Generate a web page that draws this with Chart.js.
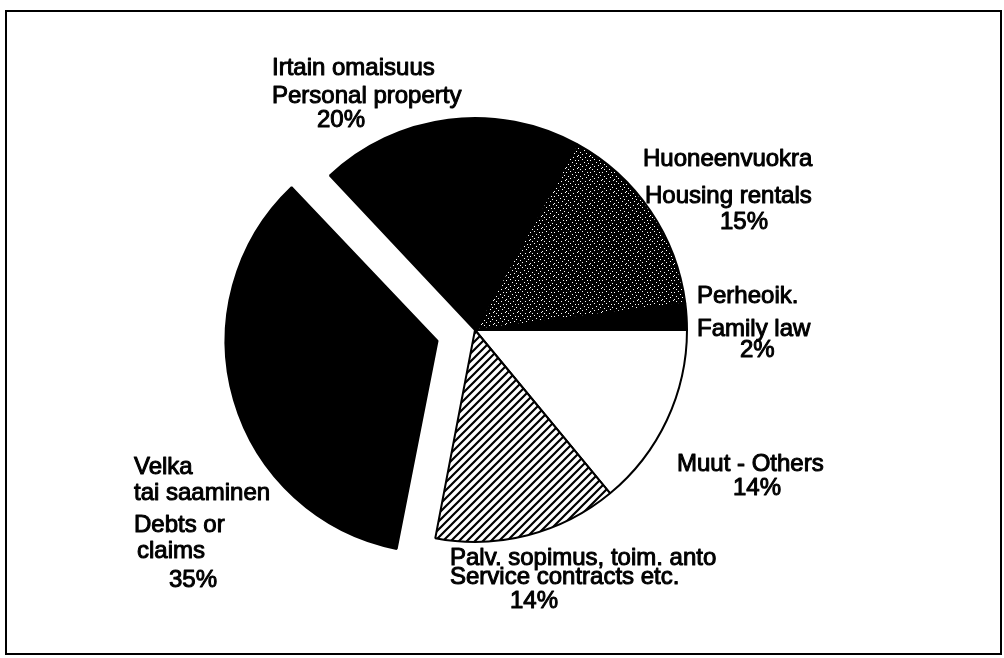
<!DOCTYPE html>
<html>
<head>
<meta charset="utf-8">
<script src="https://cdn.jsdelivr.net/npm/chart.js@4"></script>
<style>
html, body { margin: 0; padding: 0; background: #fff; }
#wrap { width: 1004px; height: 658px; position: relative; }
</style>
</head>
<body>
<div id="wrap"><canvas id="pie"></canvas></div>
<script>
// slices in clockwise order, starting at 3 o'clock
const namesFi = ['Muut', 'Palv. sopimus, toim. anto', 'Velka\ntai saaminen', 'Irtain omaisuus', 'Huoneenvuokra', 'Perheoik.'];
const namesEn = ['Others', 'Service contracts etc.', 'Debts or\nclaims', 'Personal property', 'Housing rentals', 'Family law'];
const shares = [14, 14, 35, 20, 15, 2];

// label line positions (left x, baseline y) for each slice
const labelPos = [
    [[677, 471], [733, 495]],
    [[450, 565], [450, 584], [510, 608]],
    [[134, 474], [134, 500], [134, 532], [137, 558], [169, 587]],
    [[272, 75], [272, 103], [317, 127]],
    [[643, 166], [645, 203], [720, 229]],
    [[697, 303], [697, 336], [740, 357]]
];

function labelLines(i) {
    const pct = shares[i] + '%';
    if (i === 0) return [namesFi[i] + ' - ' + namesEn[i], pct];
    return [...namesFi[i].split('\n'), ...namesEn[i].split('\n'), pct];
}

const canvas = document.getElementById('pie');
const ctx = canvas.getContext('2d');

// diagonal hatch
const hatchTile = document.createElement('canvas');
hatchTile.width = 8; hatchTile.height = 8;
const h = hatchTile.getContext('2d');
h.fillStyle = '#fff';
h.fillRect(0, 0, 8, 8);
h.strokeStyle = '#000';
h.lineWidth = 2.2;
h.beginPath();
h.moveTo(-2, 10); h.lineTo(10, -2);
h.moveTo(-2, 2); h.lineTo(2, -2);
h.moveTo(6, 10); h.lineTo(10, 6);
h.stroke();
const hatch = ctx.createPattern(hatchTile, 'repeat');

// black stipple with white dots
const dotTile = document.createElement('canvas');
dotTile.width = 12; dotTile.height = 12;
const d = dotTile.getContext('2d');
d.fillStyle = '#000';
d.fillRect(0, 0, 12, 12);
d.fillStyle = '#fff';
[[1, 0], [4, 1], [9, 1], [6, 3], [2, 4], [11, 4], [8, 6], [0, 7], [4, 8], [10, 9], [6, 10], [2, 11]]
    .forEach(p => d.fillRect(p[0], p[1], 1, 1));
const stipple = ctx.createPattern(dotTile, 'repeat');

const paper = {
    id: 'paper',
    // keep the pulled-out slice at the same radius as the others
    afterDatasetsUpdate(chart) {
        chart.getDatasetMeta(0).data.forEach(arc => {
            const off = (arc.options.offset || 0) / 4;
            if (off) {
                const fix = 1 - Math.sin(Math.min(Math.PI, arc.circumference));
                arc.outerRadius -= off * fix;
            }
        });
    },
    beforeDraw(chart) {
        const c = chart.ctx;
        c.save();
        c.fillStyle = '#fff';
        c.fillRect(0, 0, chart.width, chart.height);
        c.strokeStyle = '#000';
        c.lineWidth = 2;
        c.strokeRect(6, 11, 995, 643);
        c.restore();
    },
    afterDraw(chart) {
        const c = chart.ctx;
        c.save();
        c.font = '24px "Liberation Sans", Arial, sans-serif';
        c.fillStyle = '#000';
        c.strokeStyle = '#000';
        c.lineWidth = 1;
        c.lineJoin = 'round';
        c.textAlign = 'left';
        c.textBaseline = 'alphabetic';
        shares.forEach((v, i) => {
            labelLines(i).forEach((t, k) => {
                const p = labelPos[i][k];
                c.fillText(t, p[0], p[1]);
                c.strokeText(t, p[0], p[1]);
            });
        });
        c.restore();
    }
};

new Chart(canvas, {
    type: 'pie',
    data: {
        labels: namesEn,
        datasets: [{
            data: shares,
            backgroundColor: ['#fff', hatch, '#000', '#000', stipple, '#000'],
            borderColor: '#000',
            borderWidth: 2,
            hoverBorderWidth: 2,
            offset: [0, 0, 156, 0, 0, 0],
            hoverOffset: 0
        }]
    },
    options: {
        responsive: true,
        maintainAspectRatio: false,
        animation: false,
        events: [],
        rotation: 90,
        layout: { padding: { left: 184, right: 238, top: 39, bottom: 37 } },
        plugins: {
            legend: { display: false },
            tooltip: { enabled: false }
        }
    },
    plugins: [paper]
});
</script>
</body>
</html>
